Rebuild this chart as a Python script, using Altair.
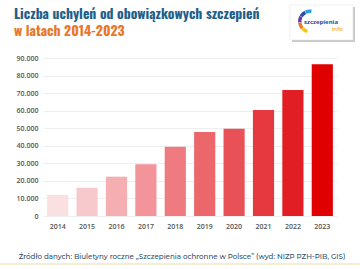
import math
import altair as alt
import pandas as pd

years = ["2014", "2015", "2016", "2017", "2018", "2019", "2020", "2021", "2022", "2023"]
refusals = [12000, 16100, 22400, 29500, 39500, 47900, 49700, 60400, 71800, 86400]
y_ticks = [0, 10000, 20000, 30000, 40000, 50000, 60000, 70000, 80000, 90000]

title_line1 = "Liczba uchyleń od obowiązkowych szczepień"
title_line2 = "w latach 2014-2023"
source_text = "Źródło danych: Biuletyny roczne „Szczepienia ochronne w Polsce” (wyd: NIZP PZH-PIB, GIS)"

palette = ["#fbe0e1", "#f8c9cc", "#f5aeb2", "#f29499", "#ef7b80", "#ec676c",
           "#e85257", "#e5393f", "#e21e25", "#e00000"]

df = pd.DataFrame({"year": years, "value": refusals})

bars = alt.Chart(df).mark_bar().encode(
    x=alt.X("year:N", sort=years,
            scale=alt.Scale(paddingInner=0.28, paddingOuter=0.14),
            axis=alt.Axis(title=None, labelAngle=0, ticks=False, domain=False,
                          labelPadding=6, labelFontSize=7, labelFont="Open Sans",
                          labelFontWeight=600, labelColor="#555555", grid=False)),
    y=alt.Y("value:Q", scale=alt.Scale(domain=[0, 90000], nice=False),
            axis=alt.Axis(title=None, values=y_ticks, ticks=False, domain=False,
                          labelPadding=5, labelFontSize=7, labelFont="Open Sans",
                          labelFontWeight=600, labelColor="#555555",
                          gridColor="#eeeeee", gridWidth=1,
                          labelExpr="replace(format(datum.value, ','), ',', '.')")),
    color=alt.Color("year:N", scale=alt.Scale(domain=years, range=palette), legend=None),
)

one = alt.Data(values=[{}])
tfont = "Oswald, Roboto Condensed"

t1 = alt.Chart(one).mark_text(text=title_line1, font=tfont, fontSize=13.8, fontWeight="bold",
                              color="#1f5f8b", align="left", baseline="alphabetic").encode(
    x=alt.value(-29), y=alt.value(-39.5))
t2 = alt.Chart(one).mark_text(text=title_line2, font=tfont, fontSize=13.8, fontWeight="bold",
                              color="#e8772a", align="left", baseline="alphabetic").encode(
    x=alt.value(-29), y=alt.value(-22))

foot = alt.Chart(one).mark_text(text=source_text, font="Montserrat, Open Sans", fontSize=7.1, fontWeight=500,
                                color="#34506e", align="center", baseline="alphabetic").encode(
    x=alt.value(139), y=alt.value(201))
foot_line = alt.Chart(one).mark_rule(color="#f6eed2", strokeWidth=2).encode(
    x=alt.value(-43), x2=alt.value(317), y=alt.value(206))

# logo
shadow = alt.Chart(one).mark_rect(fill="#c8c8c8").encode(
    x=alt.value(249), x2=alt.value(312), y=alt.value(-51), y2=alt.value(-16))
box = alt.Chart(one).mark_rect(fill="white", stroke="#e2e2e2", strokeWidth=0.5).encode(
    x=alt.value(247), x2=alt.value(310), y=alt.value(-53), y2=alt.value(-18))
arc_cols = ["#f5c518", "#ee7b22", "#6b3fa0", "#2c4fb0", "#2aa0e0"]
arc_layers = []
for i, c in enumerate(arc_cols):
    a0 = 195 + i * 35
    arc_layers.append(alt.Chart(one).mark_arc(radius=12, radius2=8.5, fill=c).encode(
        x=alt.value(267), y=alt.value(-36.5),
        theta=alt.value(math.radians(a0)), theta2=alt.value(math.radians(a0 + 33))))
logo_t1 = alt.Chart(one).mark_text(text="szczepienia", font="Open Sans", fontSize=6, fontWeight="bold",
                                   color="#2b4a9a", align="left", baseline="alphabetic").encode(
    x=alt.value(261), y=alt.value(-34.5))
logo_t2 = alt.Chart(one).mark_text(text="info", font="Open Sans", fontSize=6, fontWeight=600,
                                   color="#f0b400", align="right", baseline="alphabetic").encode(
    x=alt.value(300), y=alt.value(-27))

chart = alt.layer(bars, t1, t2, foot_line, foot, shadow, box, *arc_layers, logo_t1, logo_t2).properties(
    width=294, height=158,
    autosize=alt.AutoSizeParams(type="none"),
    padding={"left": 43, "top": 58, "right": 23, "bottom": 53},
    background="white",
).configure_view(stroke=None)

chart.save("out.html", embed_options={"renderer": "svg", "actions": False})
